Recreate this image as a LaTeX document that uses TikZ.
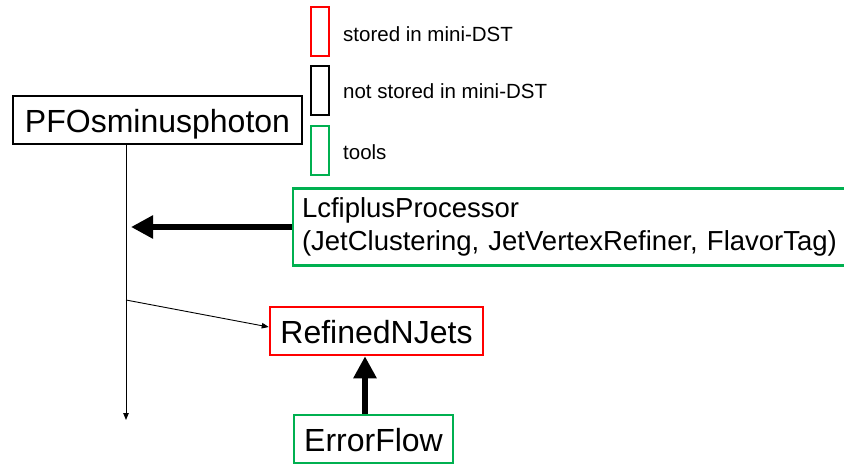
\documentclass[tikz,border=0pt]{standalone}
\usepackage{fontspec}
\setmainfont{Liberation Sans}
\usetikzlibrary{arrows.meta}
\definecolor{pptred}{HTML}{FF0000}
\definecolor{pptgreen}{HTML}{00B050}
\tikzset{
  bigbox/.style={draw, line width=2.5pt, minimum height=48pt, inner ysep=0pt, inner xsep=6pt,
    text height=27pt, text depth=3pt, font=\fontsize{32}{38}\selectfont},
  legbox/.style={draw, line width=2.5pt, minimum width=18pt, minimum height=49pt, inner sep=0pt},
  legtext/.style={anchor=base west, inner sep=0pt, font=\fontsize{20.5}{24}\selectfont},
  thickarrow/.style={line width=6pt, -{Triangle[length=22pt,width=22pt]}},
  thinarrow/.style={line width=0.9pt, -{Triangle[length=7pt,width=5.5pt]}}
}
\begin{document}
\begin{tikzpicture}[x=1pt,y=-1pt]
\useasboundingbox[fill=white] (0,0) rectangle (844,464);
% legend
\node[legbox, draw=pptred] (lr) at (320,31.5) {};
\node[legbox, draw=black] (lb) at (320,90.5) {};
\node[legbox, draw=pptgreen] (lg) at (320,150.5) {};
\node[legtext] (tr) at (343,41) {stored in mini-DST};
\node[legtext] (tb) at (343,98.5) {not stored in mini-DST};
\node[legtext] (tg) at (343,159) {tools};
% main nodes
\node[bigbox, draw=black, minimum width=289pt] (PFO) at (157.5,120) {PFOsminusphoton};
\node[draw=pptgreen, line width=2.5pt, minimum width=557pt, minimum height=77pt,
  inner xsep=9pt, text width=539pt, align=left, font=\fontsize{27.5}{32.5}\selectfont]
  (LP) at (571.5,227) {LcfiplusProcessor\\(JetClustering, JetVertexRefiner, FlavorTag)};
\node[bigbox, draw=pptred, minimum width=213pt] (RN) at (376.5,331) {RefinedNJets};
\node[bigbox, draw=pptgreen, minimum width=159pt] (EF) at (373.5,439) {ErrorFlow};
% helper coordinates
\coordinate (vx) at (126,420);
\coordinate (ds) at (126,300);
\coordinate (tipx) at (131,0);
\coordinate (ax) at (365,0);
% connectors
\draw[thinarrow] (vx |- PFO.south) -- (vx);
\draw[thinarrow] (ds) -- ([yshift=4pt]RN.west);
\draw[thickarrow] (LP.west) -- (LP.west -| tipx);
\draw[thickarrow] (ax |- EF.north) -- (ax |- RN.south);
\end{tikzpicture}
\end{document}
